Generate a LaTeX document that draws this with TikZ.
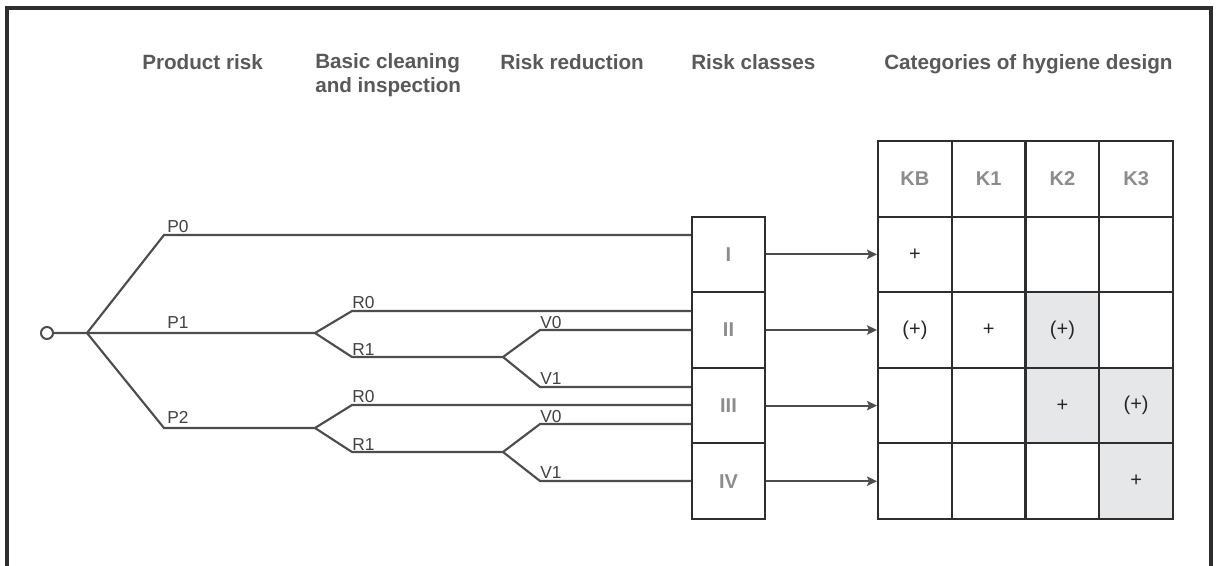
\documentclass[tikz,border=0pt]{standalone}
\usepackage{fontspec}
\setmainfont{Liberation Sans}
\usetikzlibrary{arrows.meta}
\definecolor{hdrc}{HTML}{58595B}
\definecolor{lnc}{HTML}{4D4D4F}
\definecolor{numc}{HTML}{8C8C8E}
\definecolor{shadec}{HTML}{E6E7E8}
\definecolor{framec}{HTML}{2E2E2E}
\begin{document}
\begin{tikzpicture}[x=0.75pt,y=-0.75pt,
  hdr/.style={font=\fontsize{15.5}{17.5}\selectfont\bfseries, text=hdrc, anchor=base west, inner sep=0, align=left},
  lbl/.style={font=\fontsize{13}{15}\selectfont, text=lnc!85!black, anchor=base west, inner sep=0},
  tree/.style={draw=lnc, line width=1.6pt},
  cls/.style={draw=framec, line width=1.5pt, minimum width=54.75pt, minimum height=56.7pt, inner sep=0, font=\fontsize{15}{15}\selectfont\bfseries, text=numc},
  cell/.style={draw=framec, line width=1.5pt, minimum width=55.3pt, minimum height=56.7pt, inner sep=0, font=\fontsize{15}{15}\selectfont, text=black!85},
  kh/.style={cell, font=\fontsize{15}{15}\selectfont\bfseries, text=numc},
  arr/.style={draw=lnc, line width=1.6pt, -{Stealth[length=7.5pt,width=7pt,inset=1.5pt]}}]
\useasboundingbox (0,0) rectangle (1217,565);
\fill[white] (0,0) rectangle (1217,565);
% frame
\draw[framec, line width=2.4pt] (7,566) -- (7,8) -- (1211,8) -- (1211,566);
% headers
\node[hdr] (h1) at (142,69) {Product risk};
\node[hdr] (h2) at (315,92) {Basic cleaning\\and inspection};
\node[hdr] (h3) at (500,69) {Risk reduction};
\node[hdr] (h4) at (691,69) {Risk classes};
\node[hdr] (h5) at (884,69) {Categories of hygiene design};
% risk class boxes
\node[cls] (c1) at (728.5,254.4) {I};
\node[cls] (c2) at (728.5,330) {II};
\node[cls] (c3) at (728.5,405.6) {III};
\node[cls] (c4) at (728.5,481.2) {IV};
% table header
\node[kh] (kb) at (914.9,178.8) {KB};
\node[kh] (k1) at (988.6,178.8) {K1};
\node[kh] (k2) at (1062.4,178.8) {K2};
\node[kh] (k3) at (1136.1,178.8) {K3};
% row I
\node[cell] (a1) at (914.9,254.4) {+};
\node[cell] (a2) at (988.6,254.4) {};
\node[cell] (a3) at (1062.4,254.4) {};
\node[cell] (a4) at (1136.1,254.4) {};
% row II
\node[cell] (b1) at (914.9,330) {(+)};
\node[cell] (b2) at (988.6,330) {+};
\node[cell, fill=shadec] (b3) at (1062.4,330) {(+)};
\node[cell] (b4) at (1136.1,330) {};
% row III
\node[cell] (d1) at (914.9,405.6) {};
\node[cell] (d2) at (988.6,405.6) {};
\node[cell, fill=shadec] (d3) at (1062.4,405.6) {+};
\node[cell, fill=shadec] (d4) at (1136.1,405.6) {(+)};
% row IV
\node[cell] (e1) at (914.9,481.2) {};
\node[cell] (e2) at (988.6,481.2) {};
\node[cell] (e3) at (1062.4,481.2) {};
\node[cell, fill=shadec] (e4) at (1136.1,481.2) {+};
% arrows
\draw[arr] (c1.east) -- (a1.west);
\draw[arr] (c2.east) -- (b1.west);
\draw[arr] (c3.east) -- (d1.west);
\draw[arr] (c4.east) -- (e1.west);
% tree points
\coordinate (b) at (87,333);
\coordinate (p0) at (164,235);
\coordinate (p2) at (164,428);
\coordinate (f1) at (315,333);
\coordinate (f2) at (315,428);
\coordinate (r0a) at (352,311);
\coordinate (r1a) at (352,357);
\coordinate (r0b) at (352,405);
\coordinate (r1b) at (352,452);
\coordinate (g1) at (503,357);
\coordinate (g2) at (503,452);
\coordinate (v0a) at (540,330);
\coordinate (v1a) at (540,387);
\coordinate (v0b) at (540,424);
\coordinate (v1b) at (540,481);
\node[circle, draw=lnc, line width=1.5pt, minimum size=9pt, inner sep=0] (s) at (47,333) {};
% tree lines
\draw[tree] (s) -- (b) -- (f1) -- (r0a) -- (r0a -| c2.west);
\draw[tree] (b) -- (p0) -- (p0 -| c1.west);
\draw[tree] (b) -- (p2) -- (f2) -- (r0b) -- (r0b -| c3.west);
\draw[tree] (f1) -- (r1a) -- (g1) -- (v0a) -- (v0a -| c2.west);
\draw[tree] (g1) -- (v1a) -- (v1a -| c3.west);
\draw[tree] (f2) -- (r1b) -- (g2) -- (v0b) -- (v0b -| c3.west);
\draw[tree] (g2) -- (v1b) -- (v1b -| c4.west);
% labels
\node[lbl] (lp0) at (167,232) {P0};
\node[lbl] (lp1) at (167,328) {P1};
\node[lbl] (lp2) at (167,423) {P2};
\node[lbl] (lr0a) at (352,308) {R0};
\node[lbl] (lr1a) at (352,355) {R1};
\node[lbl] (lv0a) at (540,328) {V0};
\node[lbl] (lv1a) at (540,384) {V1};
\node[lbl] (lr0b) at (352,402) {R0};
\node[lbl] (lr1b) at (352,450) {R1};
\node[lbl] (lv0b) at (540,422) {V0};
\node[lbl] (lv1b) at (540,478) {V1};
\end{tikzpicture}
\end{document}
